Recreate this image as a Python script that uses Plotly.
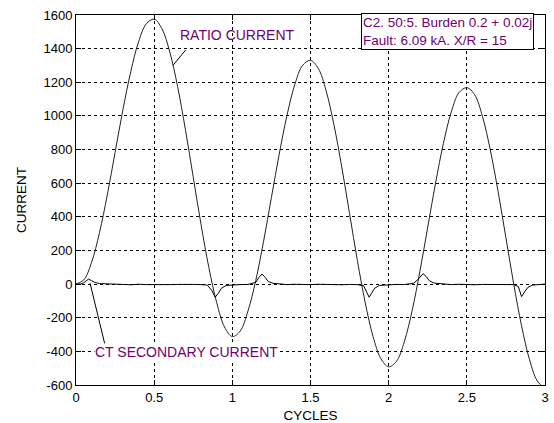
import plotly.graph_objects as go

# Ratio current (primary / ratio), sampled every 0.05 cycle
cycles = [round(i * 0.05, 2) for i in range(61)]
ratio_current = [0, 25, 130, 305, 530, 783, 1036, 1262, 1440, 1548, 1575,
                 1518, 1380, 1174, 918, 635, 353, 98, -110, -255, -312,
                 -280, -160, 22, 255, 515, 773, 1005, 1188, 1301, 1330,
                 1282, 1149, 947, 696, 418, 140, -111, -311, -443, -492,
                 -459, -343, -158, 77, 339, 601, 836, 1022, 1139, 1168,
                 1126, 997, 798, 550, 275, 0, -248, -446, -575, -622]

# CT secondary current
sec_cycles = [0, 0.03, 0.05, 0.07, 0.08, 0.10, 0.12, 0.15, 0.20, 0.25, 0.30, 0.35, 0.40,
              0.45, 0.50, 0.55, 0.60, 0.65, 0.70, 0.75, 0.80, 0.84, 0.87, 0.89, 0.91,
              0.93, 0.96, 1.00, 1.05, 1.10, 1.15, 1.17, 1.19, 1.21, 1.23, 1.26, 1.30,
              1.35, 1.40, 1.45, 1.50, 1.55, 1.60, 1.65, 1.70, 1.75, 1.80, 1.84, 1.86,
              1.875, 1.89, 1.91, 1.94, 2.00, 2.05, 2.10, 2.16, 2.19, 2.22, 2.24, 2.26,
              2.29, 2.35, 2.40, 2.45, 2.50, 2.55, 2.60, 2.65, 2.70, 2.75, 2.80, 2.83,
              2.85, 2.87, 2.89, 2.92, 2.96, 3.00]
sec_current = [0, 0, 8, 25, 30, 20, 10, 3, 0, -3, -2, -4, -1,
               -3, -4, -1, -3, -2, -4, -2, -3, -6, -40, -78, -55,
               -25, -8, -5, -3, -2, 10, 40, 60, 40, 15, 5, 0,
               -3, -1, -4, -3, -1, -3, -2, -4, -2, -3, -10, -45,
               -78, -55, -25, -8, -4, -2, -3, 5, 30, 62, 45, 20,
               6, 0, -3, -1, -3, -4, -2, -3, -1, -3, -3, -15,
               -75, -45, -20, -6, -2, 0]

x_ticks = [0, 0.5, 1, 1.5, 2, 2.5, 3]
y_ticks = [-600, -400, -200, 0, 200, 400, 600, 800, 1000, 1200, 1400, 1600]

txt = '#700070'
fam = 'Liberation Sans, Arial, sans-serif'
tick_font = dict(family=fam, size=13, color='black')
title_font = dict(family=fam, size=13.5, color='black')
ann_font = dict(family=fam, size=14, color=txt)
box_font = dict(family=fam, size=13.5, color=txt)

fig = go.Figure()
fig.add_trace(go.Scatter(x=cycles, y=ratio_current, mode='lines',
                         line=dict(color='#222222', width=1, shape='spline'),
                         showlegend=False, hoverinfo='skip'))
fig.add_trace(go.Scatter(x=sec_cycles, y=sec_current, mode='lines',
                         line=dict(color='black', width=1),
                         showlegend=False, hoverinfo='skip'))

axis_common = dict(showgrid=True, gridcolor='black', gridwidth=1, griddash='3px,3px',
                   zeroline=False, showline=True, linecolor='black', linewidth=1,
                   mirror='ticks', ticks='inside', ticklen=5, tickcolor='black',
                   tickfont=tick_font, automargin=False)

fig.update_xaxes(range=[0, 3], tickmode='array', tickvals=x_ticks,
                 ticktext=[str(v) for v in x_ticks],
                 title=dict(text='CYCLES', font=title_font, standoff=9), **axis_common)
fig.update_yaxes(range=[-600, 1600], tickmode='array', tickvals=y_ticks,
                 ticktext=[str(v) for v in y_ticks],
                 title=dict(text='CURRENT', font=title_font, standoff=13), **axis_common)

fig.add_annotation(x=0.62, y=1300, ax=14, ay=-17, text='', showarrow=True,
                   arrowhead=0, arrowwidth=1, arrowcolor='black')
fig.add_annotation(x=1.03, y=1480, text='RATIO CURRENT', showarrow=False,
                   font=ann_font)
fig.add_annotation(x=0.09, y=5, ax=15, ay=62, text='', showarrow=True,
                   arrowhead=0, arrowwidth=1, arrowcolor='black')
fig.add_annotation(x=0.707, y=-404, text='CT SECONDARY CURRENT', showarrow=False,
                   bgcolor='white', borderpad=0, font=ann_font)
fig.add_annotation(xref='paper', yref='paper', x=0.608, y=1.006, xanchor='left',
                   yanchor='top', align='left', showarrow=False,
                   text='C2. 50:5. Burden 0.2 + 0.02j<br>Fault: 6.09 kA. X/R = 15',
                   bgcolor='white', bordercolor='black', borderwidth=1, borderpad=1,
                   font=box_font)

fig.update_layout(width=554, height=423, margin=dict(l=76, r=9, t=15, b=38),
                  paper_bgcolor='white', plot_bgcolor='white', font=tick_font)

fig.write_html('out.html', config={'displayModeBar': False},
               post_script="document.body.style.margin='0';document.body.style.overflow='hidden';")
